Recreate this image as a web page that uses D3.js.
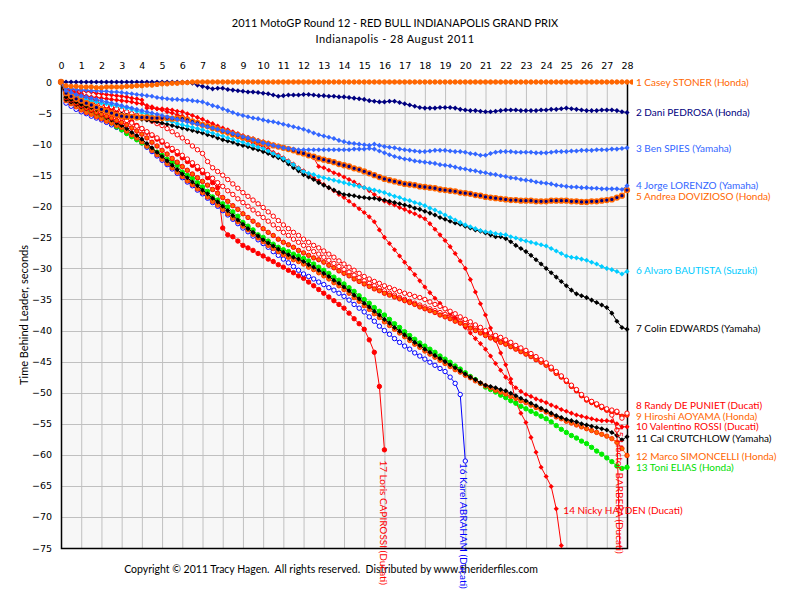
<!DOCTYPE html>
<html>
<head>
<meta charset="utf-8">
<script src="https://cdn.jsdelivr.net/npm/d3@7"></script>
<style>
	body { margin: 0; background: #fff; }
	svg text { font-family: Lato, 'Open Sans', sans-serif; }
	.tick text { font-family: 'DejaVu Sans', sans-serif; font-size: 9.5px; fill: #000; }
</style>
</head>
<body>
<div id="graph"></div>
<script>
// time behind leader (seconds), one value every quarter lap
var stoner = [0,
	-0.6,-0.7,-0.7,-0.8, -0.8,-0.8,-0.9,-0.9, -0.8,-0.8,-0.8,-0.8, -0.7,-0.7,-0.6,-0.6,
	-0.5,-0.5,-0.4,-0.3, -0.3,-0.2,-0.2,-0.1, -0.1,0,0,0, 0,0,0,0,
	0,0,0,0, 0,0,0,0, 0,0,0,0, 0,0,0,0, 0,0,0,0, 0,0,0,0, 0,0,0,0, 0,0,0,0,
	0,0,0,0, 0,0,0,0, 0,0,0,0, 0,0,0,0, 0,0,0,0, 0,0,0,0, 0,0,0,0, 0,0,0,0,
	0,0,0,0, 0,0,0,0, 0,0,0,0, 0,0,0,0, 0,0,0,0];
var pedrosa = [0,
	0,0,0,0, 0,0,0,0, 0,0,0,0, 0,0,0,0, 0,0,0,0, 0,0,0,0, 0,-0.2,-0.5,-0.7,
	-0.9,-1.1,-1.0,-1.0, -1.2,-1.3,-1.4,-1.5, -1.6,-1.6,-1.7,-1.8, -1.9,-2.1,-2.3,-2.2,
	-2.1,-2.1,-2.1,-2.0, -2.0,-2.1,-2.2,-2.2, -2.3,-2.3,-2.4,-2.4, -2.5,-2.6,-2.7,-2.8,
	-3.0,-3.1,-3.2,-3.2, -3.1,-3.1,-3.3,-3.5, -3.7,-3.9,-4.1,-4.2, -4.2,-4.2,-4.1,-4.1,
	-4.1,-4.2,-4.4,-4.5, -4.6,-4.6,-4.7,-4.8, -4.8,-4.7,-4.6,-4.5, -4.5,-4.5,-4.6,-4.6,
	-4.6,-4.6,-4.5,-4.5, -4.4,-4.4,-4.3,-4.2, -4.3,-4.4,-4.5,-4.6, -4.6,-4.6,-4.5,-4.5,
	-4.5,-4.6,-4.8,-4.9];
var spies = [0,
	-1.0,-1.1,-1.2,-1.3, -1.3,-1.4,-1.4,-1.5, -1.5,-1.6,-1.6,-1.7, -1.8,-1.9,-2.0,-2.1,
	-2.2,-2.3,-2.5,-2.6, -2.7,-2.8,-2.8,-2.9, -2.9,-3.0,-3.1,-3.2, -3.5,-3.8,-4.0,-4.3,
	-4.6,-4.9,-5.2,-5.4, -5.6,-5.8,-5.9,-6.1, -6.3,-6.4,-6.6,-6.8, -7.0,-7.2,-7.4,-7.6,
	-7.9,-8.2,-8.5,-8.7, -8.9,-9.1,-9.4,-9.6, -9.8,-9.9,-10.0,-10.1, -10.2,-10.0,-10.2,-10.4,
	-10.5,-10.6,-10.8,-10.9, -11.0,-11.1,-11.2,-11.2, -11.1,-11.0,-11.0,-11.0, -11.1,-11.2,-11.2,-11.3,
	-11.5,-11.6,-11.8,-11.8, -11.5,-11.3,-11.2,-11.2, -11.2,-11.3,-11.3,-11.3, -11.3,-11.4,-11.4,-11.4,
	-11.3,-11.2,-11.2,-11.2, -11.1,-11.1,-11.0,-11.0, -11.0,-10.9,-10.9,-10.9, -10.8,-10.8,-10.7,-10.6];
var lorenzo = [0,
	-1.4,-1.7,-2.0,-2.2, -2.4,-2.6,-2.8,-3.0, -3.2,-3.4,-3.6,-3.8, -4.0,-4.2,-4.4,-4.6,
	-4.8,-5.0,-5.2,-5.4, -5.6,-5.8,-6.0,-6.2, -6.4,-6.6,-6.8,-7.0, -7.2,-7.4,-7.6,-7.8,
	-8.0,-8.3,-8.5,-8.8, -9.0,-9.3,-9.5,-9.8, -10.0,-10.2,-10.4,-10.6, -10.7,-10.8,-10.9,-10.9,
	-10.9,-10.9,-10.9,-10.9, -10.9,-10.9,-10.9,-10.9, -10.9,-10.8,-10.8,-10.8, -10.7,-10.8,-11.1,-11.4,
	-11.7,-12.0,-12.2,-12.4, -12.5,-12.7,-12.8,-12.9, -13.0,-13.1,-13.3,-13.4, -13.5,-13.7,-13.9,-14.0,
	-14.2,-14.3,-14.5,-14.6, -14.8,-14.9,-15.1,-15.2, -15.4,-15.5,-15.7,-15.8, -15.9,-16.1,-16.2,-16.3,
	-16.4,-16.6,-16.7,-16.8, -16.9,-16.9,-17.0,-17.0, -17.1,-17.1,-17.2,-17.2, -17.2,-17.2,-17.3,-16.7];
var dovizioso = [0,
	-1.8,-2.3,-2.7,-3.0, -3.4,-3.7,-4.1,-4.4, -4.7,-5.0,-5.3,-5.5, -5.6,-5.6,-5.7,-5.7,
	-5.7,-5.8,-5.8,-5.8, -5.8,-5.9,-5.9,-5.9, -6.1,-6.4,-6.6,-6.9, -7.1,-7.4,-7.6,-7.9,
	-8.1,-8.4,-8.6,-8.9, -9.1,-9.3,-9.6,-9.8, -10.0,-10.2,-10.4,-10.6, -10.8,-11.0,-11.3,-11.5,
	-11.8,-12.0,-12.3,-12.5, -12.7,-12.9,-13.2,-13.4, -13.6,-13.9,-14.1,-14.4, -14.7,-15.0,-15.3,-15.6,
	-15.8,-16.0,-16.2,-16.4, -16.5,-16.6,-16.8,-16.9, -17.0,-17.1,-17.3,-17.4, -17.5,-17.6,-17.8,-17.9,
	-18.0,-18.2,-18.3,-18.5, -18.6,-18.7,-18.8,-18.9, -19.0,-19.0,-19.1,-19.1, -19.1,-19.2,-19.2,-19.2,
	-19.1,-19.1,-19.1,-19.1, -19.2,-19.2,-19.3,-19.3, -19.2,-19.2,-19.1,-19.0, -18.9,-18.6,-18.3,-17.4];
var bautista = [0,
	-1.7,-2.0,-2.3,-2.6, -2.8,-3.0,-3.2,-3.4, -3.5,-3.7,-3.8,-4.0, -4.2,-4.4,-4.7,-4.9,
	-5.2,-5.4,-5.7,-5.9, -6.2,-6.4,-6.7,-6.9, -7.1,-7.3,-7.5,-7.7, -8.0,-8.2,-8.5,-8.7,
	-9.0,-9.2,-9.5,-9.7, -10.0,-10.2,-10.5,-10.7, -11.1,-11.5,-11.9,-12.3, -12.8,-13.3,-13.9,-14.4,
	-14.7,-14.9,-15.2,-15.4, -15.6,-15.8,-16.0,-16.2, -16.4,-16.6,-16.8,-17.0, -17.2,-17.4,-17.6,-17.8,
	-18.1,-18.4,-18.6,-18.9, -19.1,-19.4,-19.6,-19.9, -20.3,-20.6,-21.0,-21.4, -21.8,-22.2,-22.6,-23.0,
	-23.3,-23.6,-23.9,-24.1, -24.2,-24.4,-24.5,-24.6, -24.9,-25.1,-25.4,-25.6, -25.8,-26.0,-26.2,-26.4,
	-26.8,-27.2,-27.6,-28.0, -28.2,-28.3,-28.5,-28.7, -29.0,-29.3,-29.7,-30.0, -30.2,-30.5,-30.9,-30.5];
var edwards = [0,
	-2.4,-2.8,-3.2,-3.6, -3.9,-4.1,-4.4,-4.6, -4.8,-4.9,-5.1,-5.2, -5.4,-5.6,-5.8,-6.0,
	-6.1,-6.3,-6.4,-6.6, -6.8,-7.0,-7.2,-7.4, -7.6,-7.8,-8.0,-8.2, -8.5,-8.7,-9.0,-9.3,
	-9.5,-9.7,-10.0,-10.2, -10.4,-10.7,-10.9,-11.2, -11.5,-11.9,-12.2,-12.6, -13.2,-13.8,-14.3,-14.9,
	-15.3,-15.7,-16.2,-16.6, -17.0,-17.4,-17.8,-18.1, -18.2,-18.3,-18.5,-18.6, -18.7,-18.7,-18.9,-19.0,
	-19.2,-19.4,-19.6,-19.8, -20.0,-20.3,-20.5,-20.8, -21.1,-21.4,-21.8,-22.1, -22.4,-22.7,-22.9,-23.2,
	-23.5,-23.8,-24.0,-24.3, -24.6,-24.9,-24.9,-25.2, -25.7,-26.3,-26.8,-27.3, -27.9,-28.6,-29.3,-30.0,
	-30.7,-31.4,-32.1,-32.8, -33.5,-34.1,-34.4,-34.7, -35.1,-35.5,-35.9,-36.3, -37.2,-38.5,-39.5,-39.8];
var depuniet = [0,
	-1.6,-1.8,-2.1,-2.4, -2.7,-3.0,-3.3,-3.6, -3.8,-4.0,-4.3,-4.5, -4.8,-5.1,-5.4,-5.7,
	-6.0,-6.3,-6.7,-7.0, -7.5,-8.0,-8.5,-9.0, -9.6,-10.3,-10.9,-11.5, -12.8,-13.8,-14.4,-15.0,
	-15.7,-16.4,-17.1,-17.8, -18.4,-19.0,-19.6,-20.2, -20.9,-21.6,-22.3,-23.0, -23.6,-24.2,-24.7,-25.3,
	-25.8,-26.3,-26.7,-27.2, -27.7,-28.2,-28.8,-29.3, -29.8,-30.3,-30.8,-31.3, -31.7,-32.1,-32.4,-32.8,
	-33.1,-33.4,-33.7,-34.0, -34.2,-34.5,-34.7,-35.0, -35.4,-35.8,-36.1,-36.5, -36.9,-37.3,-37.8,-38.2,
	-38.6,-39.1,-39.5,-40.0, -40.4,-40.8,-41.1,-41.5, -41.9,-42.4,-42.8,-43.2, -43.7,-44.2,-44.7,-45.2,
	-45.9,-46.6,-47.3,-48.0, -48.8,-49.5,-50.3,-51.0, -51.4,-51.8,-52.2,-52.6, -52.8,-53.0,-54.1,-53.3];
var aoyama = [0,
	-2.5,-2.9,-3.4,-3.8, -4.2,-4.5,-4.9,-5.2, -5.5,-5.8,-6.2,-6.5, -6.9,-7.4,-7.9,-8.4,
	-9.0,-9.7,-10.3,-11.0, -11.6,-12.3,-12.9,-13.6, -14.2,-14.8,-15.4,-16.0, -16.6,-17.3,-17.9,-18.6,
	-19.2,-19.9,-20.5,-21.2, -21.8,-22.4,-23.0,-23.6, -24.2,-24.7,-25.3,-25.8, -26.2,-26.6,-27.1,-27.5,
	-27.9,-28.3,-28.6,-29.0, -29.5,-29.9,-30.4,-30.8, -31.2,-31.7,-32.1,-32.5, -32.9,-33.3,-33.6,-34.0,
	-34.3,-34.6,-34.9,-35.2, -35.5,-35.8,-36.2,-36.5, -36.8,-37.1,-37.5,-37.8, -38.1,-38.5,-38.8,-39.2,
	-39.6,-40.0,-40.4,-40.8, -41.2,-41.5,-41.9,-42.2, -42.6,-43.0,-43.4,-43.8, -44.2,-44.7,-45.1,-45.6,
	-46.2,-46.9,-47.5,-48.2, -49.0,-49.7,-50.5,-51.2, -51.6,-52.0,-52.4,-52.8, -53.0,-53.2,-53.8,-53.6];
var rossi = [0,
	-1.5,-1.7,-2.0,-2.2, -2.3,-2.4,-2.5,-2.6, -2.7,-2.8,-2.9,-3.0, -3.1,-3.2,-3.4,-3.5,
	-3.8,-4.0,-4.3,-4.5, -4.8,-5.0,-5.3,-5.5, -5.8,-6.2,-6.5,-6.8, -7.1,-7.4,-7.7,-8.0,
	-8.3,-8.6,-8.9,-9.2, -9.5,-9.8,-10.1,-10.4, -10.8,-11.3,-11.7,-12.2, -12.7,-13.2,-13.8,-14.3,
	-14.8,-15.4,-15.9,-16.5, -17.0,-17.5,-18.1,-18.6, -19.2,-19.8,-20.4,-21.0, -21.7,-22.5,-23.8,-25.0,
	-26.0,-27.0,-28.0,-29.0, -30.0,-31.0,-32.0,-33.0, -33.9,-34.8,-35.6,-36.5, -37.3,-38.0,-38.8,-39.5,
	-40.4,-41.3,-42.1,-43.0, -44.1,-45.3,-46.4,-47.5, -48.4,-49.2,-49.8,-50.3, -50.6,-51.0,-51.3,-51.6,
	-52.0,-52.3,-52.7,-53.0, -53.3,-53.6,-53.8,-54.0, -54.2,-54.4,-54.5,-54.5, -54.6,-55.0,-55.5,-55.5];
var crutchlow = [0,
	-2.8,-3.2,-3.6,-4.0, -4.3,-4.6,-5.0,-5.3, -5.7,-6.1,-6.6,-7.0, -7.5,-8.1,-8.6,-9.2,
	-9.9,-10.6,-11.3,-12.0, -12.7,-13.4,-14.1,-14.8, -15.4,-16.1,-16.7,-17.4, -18.0,-18.7,-19.3,-20.0,
	-20.7,-21.5,-22.2,-22.9, -23.6,-24.2,-24.8,-25.4, -25.9,-26.4,-26.9,-27.4, -27.8,-28.2,-28.5,-28.9,
	-29.4,-29.8,-30.3,-30.8, -31.3,-31.9,-32.4,-33.0, -33.6,-34.3,-34.9,-35.6, -36.2,-36.9,-37.5,-38.2,
	-38.8,-39.5,-40.1,-40.7, -41.3,-41.9,-42.4,-43.0, -43.5,-44.0,-44.5,-45.0, -45.5,-46.0,-46.5,-47.0,
	-47.5,-47.9,-48.4,-48.8, -49.0,-49.2,-49.5,-49.7, -50.1,-50.5,-50.9,-51.3, -51.7,-52.1,-52.5,-52.9,
	-53.3,-53.7,-54.0,-54.3, -54.5,-54.7,-55.0,-55.2, -55.4,-55.6,-55.8,-56.0, -56.4,-56.9,-57.6,-57.1];
var simoncelli = [0,
	-3.0,-3.5,-4.0,-4.5, -4.9,-5.2,-5.6,-5.9, -6.3,-6.6,-7.0,-7.3, -7.9,-8.5,-9.0,-9.6,
	-10.3,-11.0,-11.7,-12.4, -13.1,-13.8,-14.5,-15.2, -15.9,-16.5,-17.2,-17.8, -18.5,-19.2,-19.8,-20.5,
	-21.2,-21.9,-22.5,-23.2, -23.8,-24.5,-25.1,-25.7, -26.3,-26.8,-27.3,-27.8, -28.2,-28.6,-28.9,-29.3,
	-29.8,-30.2,-30.7,-31.2, -31.7,-32.3,-32.8,-33.4, -34.0,-34.7,-35.3,-36.0, -36.6,-37.3,-37.9,-38.6,
	-39.2,-39.8,-40.4,-41.0, -41.6,-42.2,-42.7,-43.3, -43.8,-44.3,-44.8,-45.3, -45.8,-46.3,-46.7,-47.2,
	-47.6,-48.1,-48.5,-48.9, -49.2,-49.6,-49.9,-50.2, -50.6,-50.9,-51.3,-51.6, -52.0,-52.4,-52.7,-53.1,
	-53.5,-53.9,-54.2,-54.6, -54.9,-55.2,-55.5,-55.8, -56.1,-56.4,-56.7,-57.0, -57.4,-58.0,-59.0,-60.1];
var elias = [0,
	-2.6,-3.2,-3.7,-4.2, -4.6,-4.9,-5.3,-5.6, -6.1,-6.6,-7.2,-7.7, -8.3,-8.8,-9.3,-9.8,
	-10.3,-10.8,-11.3,-11.8, -12.4,-12.9,-13.4,-14.5, -15.0,-15.5,-16.2,-16.9, -17.6,-18.5,-19.0,-19.6,
	-20.1,-20.9,-21.6,-22.6, -23.2,-23.8,-24.6,-25.0, -25.6,-26.1,-26.6,-27.0, -27.3,-27.7,-28.0,-28.4,
	-28.8,-29.3,-29.8,-30.3, -30.8,-31.4,-31.9,-32.5, -33.1,-33.7,-34.4,-35.0, -35.6,-36.3,-36.9,-37.5,
	-38.2,-38.9,-39.5,-40.2, -40.8,-41.4,-42.0,-42.5, -43.0,-43.5,-44.1,-44.6, -45.1,-45.7,-46.2,-46.8,
	-47.4,-47.9,-48.5,-49.1, -49.5,-49.9,-50.4,-50.8, -51.3,-51.7,-52.2,-52.6, -53.0,-53.4,-53.8,-54.2,
	-54.7,-55.3,-55.9,-56.4, -56.9,-57.3,-57.8,-58.2, -58.8,-59.4,-59.9,-60.5, -61.1,-61.8,-62.2,-62.0];
var hayden = [0,
	-1.0,-1.1,-1.3,-1.4, -1.5,-1.6,-1.8,-1.9, -2.0,-2.1,-2.2,-2.3, -2.4,-2.6,-2.7,-2.9,
	-4.2,-4.2,-4.3,-4.3, -4.4,-4.5,-4.7,-4.8, -5.1,-5.4,-5.7,-6.0, -6.4,-6.7,-7.1,-7.4,
	-7.7,-8.0,-8.3,-8.6, -8.9,-9.1,-9.4,-9.6, -9.8,-10.1,-10.3,-10.5, -10.8,-11.0,-11.3,-11.5,
	-11.8,-12.2,-13.6,-13.8, -14.2,-14.6,-14.9,-15.3, -15.7,-16.1,-16.6,-17.0, -17.5,-18.1,-18.7,-19.2,
	-19.5,-19.8,-20.2,-20.5, -20.9,-21.2,-21.6,-22.0, -22.8,-23.7,-24.6,-25.5, -26.5,-27.6,-28.8,-30.0,
	-31.8,-33.8,-35.7,-37.5, -39.6,-41.6,-43.6,-45.5, -47.8,-51.5,-53.3,-54.8, -57.2,-59.6,-62.0,-63.5,
	-65.1,-68.7,-74.6,-80.0, -86.0];
var barbera = [0,
	-2.0,-2.4,-2.8,-3.2, -3.5,-3.8,-4.2,-4.5, -4.8,-5.2,-5.5,-5.8, -6.2,-6.6,-7.1,-7.5,
	-8.0,-8.5,-9.0,-9.5, -10.1,-10.7,-11.2,-11.8, -12.4,-13.0,-13.6,-14.2, -14.9,-15.5,-16.2,-16.8,
	-17.5,-18.1,-18.8,-19.4, -20.0,-20.6,-21.2,-21.8, -22.4,-23.0,-23.6,-24.2, -24.7,-25.3,-25.8,-26.3,
	-26.8,-27.3,-27.7,-28.2, -28.7,-29.2,-29.7,-30.2, -30.6,-31.1,-31.5,-32.0, -32.4,-32.8,-33.2,-33.6,
	-34.0,-34.3,-34.7,-35.0, -35.3,-35.6,-35.9,-36.2, -36.5,-36.8,-37.1,-37.4, -37.8,-38.1,-38.5,-38.8,
	-39.2,-39.6,-40.0,-40.4, -40.8,-41.2,-41.5,-41.9, -42.3,-42.7,-43.1,-43.5, -44.0,-44.4,-44.9,-45.4,
	-46.1,-46.8,-47.4,-48.1, -48.9,-49.6,-50.4,-51.1, -51.5,-51.9,-52.4,-52.8, -53.6,-56.0,-90.0,-95.0];
var abraham = [0,
	-3.4,-3.9,-4.4,-4.8, -5.1,-5.5,-5.8,-6.1, -6.5,-6.9,-7.3,-7.7, -8.2,-8.7,-9.2,-9.8,
	-10.5,-11.2,-11.9,-12.6, -13.3,-14.0,-14.7,-15.4, -16.1,-16.7,-17.4,-18.0, -18.7,-19.4,-20.0,-20.7,
	-21.4,-22.1,-22.8,-23.5, -24.1,-24.8,-25.4,-26.0, -26.6,-27.3,-27.9,-28.5, -29.1,-29.7,-30.3,-30.9,
	-31.3,-31.7,-32.2,-32.6, -33.1,-33.5,-34.0,-34.5, -35.1,-35.8,-36.4,-37.0, -37.8,-38.5,-39.3,-40.0,
	-40.6,-41.3,-41.9,-42.5, -43.0,-43.6,-44.1,-44.6, -45.1,-45.6,-46.1,-46.6, -47.5,-48.5,-50.3,-61.0];
var capirossi = [0,
	-1.2,-1.4,-1.7,-2.0, -2.4,-2.8,-3.1,-3.5, -4.0,-4.4,-4.9,-5.3, -5.9,-6.4,-7.0,-7.5,
	-8.1,-8.6,-9.2,-9.7, -10.3,-11.0,-11.6,-12.2, -12.8,-13.4,-14.0,-14.6, -15.4,-16.2,-17.0,-23.5,
	-24.6,-24.9,-25.6,-26.3, -26.7,-27.1,-27.6,-28.0, -28.5,-28.9,-29.4,-29.8, -30.3,-30.7,-31.2,-31.6,
	-32.2,-32.8,-33.4,-34.0, -34.6,-35.2,-35.8,-36.4, -37.2,-38.1,-38.9,-39.8, -41.5,-43.5,-49.0,-59.2];

var riderNames = [
	'1 Casey STONER (Honda)', '2 Dani PEDROSA (Honda)', '3 Ben SPIES (Yamaha)',
	'4 Jorge LORENZO (Yamaha)', '5 Andrea DOVIZIOSO (Honda)', '6 Alvaro BAUTISTA (Suzuki)',
	'7 Colin EDWARDS (Yamaha)', '8 Randy DE PUNIET (Ducati)', '9 Hiroshi AOYAMA (Honda)',
	'10 Valentino ROSSI (Ducati)', '11 Cal CRUTCHLOW (Yamaha)', '12 Marco SIMONCELLI (Honda)',
	'13 Toni ELIAS (Honda)', '14 Nicky HAYDEN (Ducati)', '15 Hector BARBERA (Ducati)',
	'16 Karel ABRAHAM (Ducati)', '17 Loris CAPIROSSI (Ducati)'
];
var riderTimes = [stoner, pedrosa, spies, lorenzo, dovizioso, bautista, edwards, depuniet,
	aoyama, rossi, crutchlow, simoncelli, elias, hayden, barbera, abraham, capirossi];

var lapTicks = d3.range(0, 29);
var timeTicks = d3.range(-75, 1, 5);

// line colour, marker shape, marker fill, marker stroke
var riderStyles = [
	['#ff6600', 'circle', '#ff6600', '#ff6600'],
	['#000080', 'diamond', '#000080', '#000080'],
	['#3366ff', 'diamond', '#3366ff', '#3366ff'],
	['#3366ff', 'diamond', '#3366ff', '#3366ff'],
	['#ff6600', 'ring', '#000080', '#ff6600'],
	['#00ccff', 'diamond', '#00ccff', '#00ccff'],
	['#000000', 'diamond', '#000000', '#000000'],
	['#ff0000', 'circle', '#ffffff', '#ff0000'],
	['#ff3300', 'circle', '#ff6600', '#ff0000'],
	['#ff0000', 'diamond', '#ff0000', '#ff0000'],
	['#000000', 'diamond', '#000000', '#000000'],
	['#ff6600', 'circle', '#ff6600', '#ff3300'],
	['#00ee00', 'circle', '#00ee00', '#00ee00'],
	['#ff0000', 'diamond', '#ff0000', '#ff0000'],
	['#ff0000', 'circle', '#ffffff', '#ff0000'],
	['#0000ff', 'circle', '#ffffff', '#0000ff'],
	['#ff0000', 'circle', '#ff0000', '#ff0000']
];
var labelColors = ['#ff6600', '#000080', '#3366ff', '#3366ff', '#ff6600', '#00ccff', '#000000',
	'#ff0000', '#ff6600', '#ff0000', '#000000', '#ff6600', '#00dd00', '#ff0000', '#ff0000',
	'#0000ff', '#ff0000'];
// where each name sits: [lap, seconds, rotation]
var labelPlaces = [
	[28, 0, 0], [28, -4.9, 0], [28, -10.7, 0], [28, -16.6, 0], [28, -18.5, 0], [28, -30.4, 0],
	[28, -39.7, 0], [28, -52.0, 0], [28, -53.8, 0], [28, -55.4, 0], [28, -57.3, 0], [28, -60.2, 0],
	[28, -62.1, 0], [24.85, -69.0, 0], [27.65, -55.3, 90], [19.9, -61.3, 90], [15.95, -60.9, 90]
];

var marginLeft = 61, marginTop = 82;
var plotWidth = 566, plotHeight = 466;

var xScale = d3.scaleLinear()
				.domain([0, 28])
				.range([marginLeft, marginLeft + plotWidth]);

var yScale = d3.scaleLinear()
				.domain([-75, 0])
				.range([marginTop + plotHeight, marginTop]);

var svg = d3.select('#graph').append('svg')
			.attr('width', 790)
			.attr('height', 591);

function drawFrame() {
	svg.append('rect')
		.attr('x', xScale(0)).attr('y', yScale(0))
		.attr('width', plotWidth).attr('height', plotHeight)
		.attr('fill', '#f7f7f7');

	// grid
	svg.append('g').selectAll('line').data(lapTicks.slice(1, -1)).enter()
		.append('line')
			.attr('x1', function(d) { return xScale(d) + 0.5; })
			.attr('x2', function(d) { return xScale(d) + 0.5; })
			.attr('y1', yScale(0)).attr('y2', yScale(-75))
			.attr('stroke', '#c0c0c0');

	svg.append('g').selectAll('line').data(timeTicks.slice(1)).enter()
		.append('line')
			.attr('y1', function(d) { return Math.round(yScale(d)) + 0.5; })
			.attr('y2', function(d) { return Math.round(yScale(d)) + 0.5; })
			.attr('x1', xScale(0)).attr('x2', xScale(28))
			.attr('stroke', '#c0c0c0');

	var xAxis = d3.axisTop(xScale).tickValues(lapTicks).tickSize(0).tickPadding(13);
	svg.append('g')
		.attr('class', 'xAxis')
		.attr('transform', 'translate(0,' + yScale(0) + ')')
		.call(xAxis)
		.select('.domain').remove();

	var yAxis = d3.axisLeft(yScale).tickValues(timeTicks).tickSize(0).tickPadding(9);
	svg.append('g')
		.attr('class', 'yAxis')
		.attr('transform', 'translate(' + xScale(0) + ',0)')
		.call(yAxis)
		.select('.domain').remove();

	// black frame on left, bottom and right
	svg.append('path')
		.attr('d', 'M' + (xScale(0) + 0.5) + ',' + yScale(0) +
			'V' + (yScale(-75) + 0.5) + 'H' + (xScale(28) + 0.5) + 'V' + yScale(0))
		.attr('fill', 'none')
		.attr('stroke', '#000')
		.attr('stroke-width', 1.5);
}

function drawRiders() {
	svg.append('clipPath').attr('id', 'plotClip')
		.append('rect')
			.attr('x', xScale(0) - 6).attr('y', yScale(0) - 6)
			.attr('width', plotWidth + 12).attr('height', plotHeight + 6);

	var layer = svg.append('g').attr('clip-path', 'url(#plotClip)');

	var line = d3.line()
				.x(function(d, i) { return xScale(i / 4); })
				.y(function(d) { return yScale(d); });

	var diamond = d3.symbol().type(d3.symbolSquare).size(13);

	for (var r = riderTimes.length - 1; r >= 0; r--) {
		var style = riderStyles[r];
		var g = layer.append('g');

		g.append('path')
			.attr('d', line(riderTimes[r]))
			.attr('fill', 'none')
			.attr('stroke', style[0])
			.attr('stroke-width', 1);

		if (style[1] == 'circle' || style[1] == 'ring') {
			var ring = style[1] == 'ring';
			g.selectAll('circle').data(riderTimes[r]).enter()
				.append('circle')
					.attr('cx', function(d, i) { return xScale(i / 4); })
					.attr('cy', function(d) { return yScale(d); })
					.attr('r', ring ? 2.4 : 2.2)
					.attr('fill', style[2])
					.attr('stroke', style[3])
					.attr('stroke-width', ring ? 1.5 : 1);
		}
		else {
			g.selectAll('path.m').data(riderTimes[r]).enter()
				.append('path')
					.attr('class', 'm')
					.attr('d', diamond)
					.attr('transform', function(d, i) {
						return 'translate(' + xScale(i / 4) + ',' + yScale(d) + ') rotate(45)';
					})
					.attr('fill', style[2]);
		}
	}
}

function drawText() {
	svg.append('text')
		.attr('x', 395).attr('y', 27)
		.attr('text-anchor', 'middle')
		.style('font-size', '11px')
		.text('2011 MotoGP Round 12 - RED BULL INDIANAPOLIS GRAND PRIX');

	svg.append('text')
		.attr('x', 395).attr('y', 43)
		.attr('text-anchor', 'middle')
		.style('font-size', '11px')
		.style('letter-spacing', '0.5px')
		.text('Indianapolis - 28 August 2011');

	svg.append('text')
		.attr('transform', 'translate(28,' + yScale(-37.5) + ') rotate(-90)')
		.attr('text-anchor', 'middle')
		.style('font-size', '11px')
		.text('Time Behind Leader, seconds');

	svg.append('text')
		.attr('x', 331).attr('y', 573)
		.attr('text-anchor', 'middle')
		.style('font-size', '10.5px')
		.style('white-space', 'pre')
		.text('Copyright \u00a9 2011 Tracy Hagen.  All rights reserved.  Distributed by www.theriderfiles.com');

	svg.append('g').selectAll('text').data(riderNames).enter()
		.append('text')
			.attr('transform', function(d, i) {
				var p = labelPlaces[i];
				var x = xScale(p[0]) + (p[2] == 0 && p[0] == 28 ? 9 : 0);
				return 'translate(' + x + ',' + yScale(p[1]) + ') rotate(' + p[2] + ')';
			})
			.attr('dy', '0.35em')
			.style('font-size', '10px')
			.attr('fill', function(d, i) { return labelColors[i]; })
			.text(function(d) { return d; });
}

drawFrame();
drawRiders();
drawText();
</script>
</body>
</html>
